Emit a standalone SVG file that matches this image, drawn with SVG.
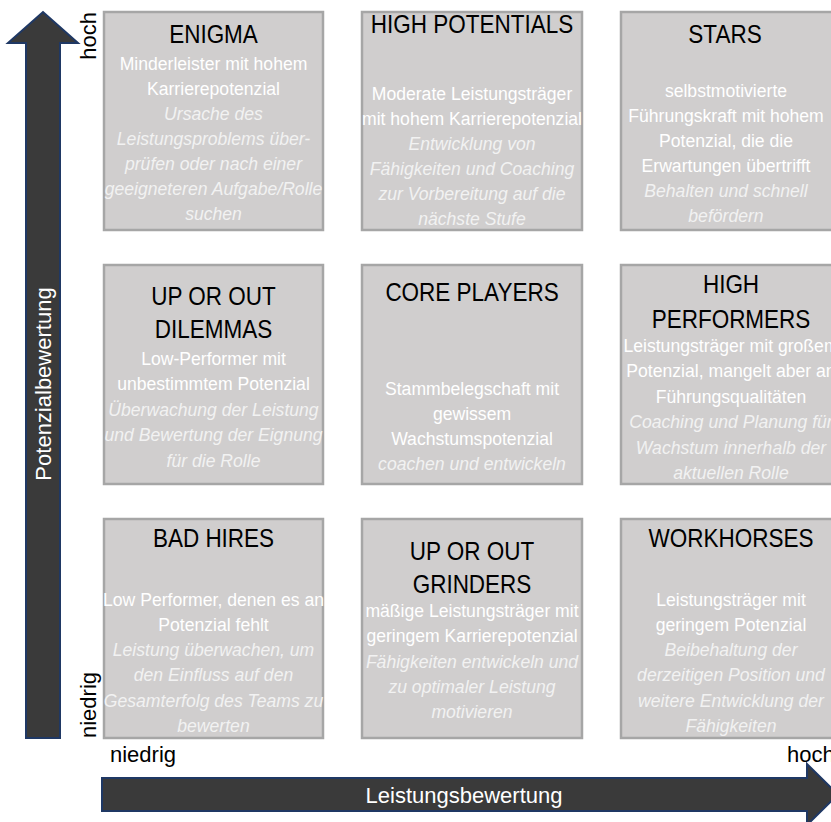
<svg xmlns="http://www.w3.org/2000/svg" width="831" height="822" viewBox="0 0 831 822">
<style>
text{font-family:"Liberation Sans",Arial,sans-serif;}
.box{fill:#d0cece;stroke:#a6a6a6;stroke-width:2.5;}
.t{font-size:25px;fill:#000;text-anchor:middle;}
.b{font-size:17.6px;fill:#ffffff;text-anchor:middle;}
.i{font-size:17.6px;fill:#f2f2f2;text-anchor:middle;font-style:italic;}
.arrow{fill:#3a3a3a;stroke:#1f3864;stroke-width:2;}
.ax{font-size:22px;fill:#000;}
.axw{font-size:22px;fill:#fff;}
</style>
<g id="connectors">
<path class="arrow" d="M26,738 L26,43 L8,43 L43,12 L78,43 L60,43 L60,738 Z"/>
<path class="arrow" d="M102,778 L807,778 L807,764 L838,794.5 L807,825 L807,811 L102,811 Z"/>
</g>
<g id="axis-labels">
<text class="axw" text-anchor="middle" transform="translate(51,384) rotate(-90)">Potenzialbewertung</text>
<text class="ax" text-anchor="end" transform="translate(96,12) rotate(-90)">hoch</text>
<text class="ax" text-anchor="start" transform="translate(96,738) rotate(-90)">niedrig</text>
<text class="ax" x="110" y="762">niedrig</text>
<text class="ax" x="787" y="762">hoch</text>
<text class="axw" x="464" y="803" text-anchor="middle">Leistungsbewertung</text>
</g>
<g id="enigma">
<rect class="box" x="104" y="12" width="219" height="218"/>
<text class="t" transform="translate(213.5 43) scale(0.9 1)">ENIGMA</text>
<text class="b" x="213.5" y="70">Minderleister mit hohem</text>
<text class="b" x="213.5" y="95">Karrierepotenzial</text>
<text class="i" x="213.5" y="120">Ursache des</text>
<text class="i" x="213.5" y="145">Leistungsproblems über-</text>
<text class="i" x="213.5" y="170">prüfen oder nach einer</text>
<text class="i" x="213.5" y="195">geeigneteren Aufgabe/Rolle</text>
<text class="i" x="213.5" y="220">suchen</text>
</g>
<g id="high-potentials">
<rect class="box" x="362" y="12" width="220" height="218"/>
<text class="t" transform="translate(472 33) scale(0.9 1)">HIGH POTENTIALS</text>
<text class="b" x="472" y="100">Moderate Leistungsträger</text>
<text class="b" x="472" y="125">mit hohem Karrierepotenzial</text>
<text class="i" x="472" y="150">Entwicklung von</text>
<text class="i" x="472" y="175">Fähigkeiten und Coaching</text>
<text class="i" x="472" y="200">zur Vorbereitung auf die</text>
<text class="i" x="472" y="225">nächste Stufe</text>
</g>
<g id="stars">
<rect class="box" x="621" y="12" width="220" height="218"/>
<text class="t" transform="translate(725 43) scale(0.9 1)">STARS</text>
<text class="b" x="726" y="97">selbstmotivierte</text>
<text class="b" x="726" y="122">Führungskraft mit hohem</text>
<text class="b" x="726" y="147">Potenzial, die die</text>
<text class="b" x="726" y="172">Erwartungen übertrifft</text>
<text class="i" x="726" y="197">Behalten und schnell</text>
<text class="i" x="726" y="222">befördern</text>
</g>
<g id="up-or-out-dilemmas">
<rect class="box" x="104" y="265" width="219" height="219"/>
<text class="t" transform="translate(213.5 305) scale(0.9 1)">UP OR OUT</text>
<text class="t" transform="translate(213.5 338) scale(0.9 1)">DILEMMAS</text>
<text class="b" x="213.5" y="365">Low-Performer mit</text>
<text class="b" x="213.5" y="390">unbestimmtem Potenzial</text>
<text class="i" x="213.5" y="416">Überwachung der Leistung</text>
<text class="i" x="213.5" y="441">und Bewertung der Eignung</text>
<text class="i" x="213.5" y="467">für die Rolle</text>
</g>
<g id="core-players">
<rect class="box" x="362" y="265" width="220" height="219"/>
<text class="t" transform="translate(472 301) scale(0.9 1)">CORE PLAYERS</text>
<text class="b" x="472" y="395">Stammbelegschaft mit</text>
<text class="b" x="472" y="420">gewissem</text>
<text class="b" x="472" y="445">Wachstumspotenzial</text>
<text class="i" x="472" y="470">coachen und entwickeln</text>
</g>
<g id="high-performers">
<rect class="box" x="621" y="265" width="220" height="219"/>
<text class="t" transform="translate(731 293) scale(0.9 1)">HIGH</text>
<text class="t" transform="translate(731 328) scale(0.9 1)">PERFORMERS</text>
<text class="b" x="731" y="352">Leistungsträger mit großem</text>
<text class="b" x="731" y="377">Potenzial, mangelt aber an</text>
<text class="b" x="731" y="403">Führungsqualitäten</text>
<text class="i" x="731" y="428">Coaching und Planung für</text>
<text class="i" x="731" y="454">Wachstum innerhalb der</text>
<text class="i" x="731" y="479">aktuellen Rolle</text>
</g>
<g id="bad-hires">
<rect class="box" x="104" y="519" width="219" height="219"/>
<text class="t" transform="translate(213.5 547) scale(0.9 1)">BAD HIRES</text>
<text class="b" x="213.5" y="606">Low Performer, denen es an</text>
<text class="b" x="213.5" y="631">Potenzial fehlt</text>
<text class="i" x="213.5" y="656">Leistung überwachen, um</text>
<text class="i" x="213.5" y="681">den Einfluss auf den</text>
<text class="i" x="213.5" y="707">Gesamterfolg des Teams zu</text>
<text class="i" x="213.5" y="732">bewerten</text>
</g>
<g id="up-or-out-grinders">
<rect class="box" x="362" y="519" width="220" height="219"/>
<text class="t" transform="translate(472 560) scale(0.9 1)">UP OR OUT</text>
<text class="t" transform="translate(472 593) scale(0.9 1)">GRINDERS</text>
<text class="b" x="472" y="617">mäßige Leistungsträger mit</text>
<text class="b" x="472" y="642">geringem Karrierepotenzial</text>
<text class="i" x="472" y="668">Fähigkeiten entwickeln und</text>
<text class="i" x="472" y="693">zu optimaler Leistung</text>
<text class="i" x="472" y="718">motivieren</text>
</g>
<g id="workhorses">
<rect class="box" x="621" y="519" width="220" height="219"/>
<text class="t" transform="translate(731 547) scale(0.9 1)">WORKHORSES</text>
<text class="b" x="731" y="606">Leistungsträger mit</text>
<text class="b" x="731" y="631">geringem Potenzial</text>
<text class="i" x="731" y="656">Beibehaltung der</text>
<text class="i" x="731" y="681">derzeitigen Position und</text>
<text class="i" x="731" y="707">weitere Entwicklung der</text>
<text class="i" x="731" y="732">Fähigkeiten</text>
</g>
</svg>
